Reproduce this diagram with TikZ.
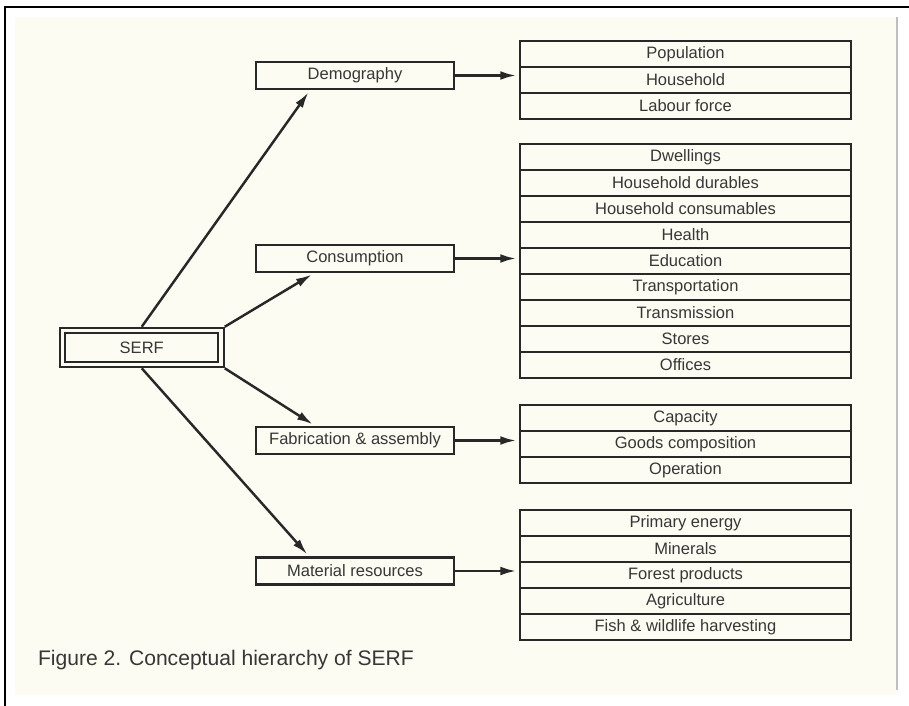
\documentclass[tikz,border=0pt]{standalone}
\usepackage{fontspec}
\setmainfont{Liberation Sans}
\usetikzlibrary{arrows.meta}
\definecolor{paper}{RGB}{253,252,242}
\definecolor{ink}{RGB}{40,40,40}
\definecolor{textgray}{RGB}{55,55,55}

\begin{document}
\begin{tikzpicture}[x=0.02cm, y=-0.02cm, line width=1.4pt, ink,
    boxfont/.style={font=\fontsize{9.4}{11}\selectfont, text=textgray},
    listrow/.style={draw, boxfont, minimum width=6.62cm, minimum height=0.52cm, inner sep=0pt},
    catbox/.style={draw, boxfont, minimum width=3.96cm, minimum height=0.54cm, inner sep=0pt},
    serfbox/.style={draw, double=paper, double distance=1.9pt, line width=1.2pt, boxfont,
        minimum width=3.17cm, minimum height=0.68cm, inner sep=0pt, outer sep=2.15pt},
    link/.style={-{Latex[length=9pt,width=5pt]}, shorten >=1.5pt}]

    \useasboundingbox (0,0) rectangle (909,706);
    % scanned page and frame
    \fill[white] (0,0) rectangle (909,706);
    \fill[paper] (15,17) rectangle (897,695);
    \draw[black, line width=1.3pt] (5,706) -- (5,7) -- (909,7);
    \draw[gray!50, line width=0.8pt] (897,17) -- (897,690);

    % root
    \node[serfbox] (serf) at (141.75, 347.5) {SERF};

    % categories
    \node[catbox] (demog) at (355, 75.5) {Demography};
    \node[catbox] (consum) at (355, 258.5) {Consumption};
    \node[catbox] (fabric) at (355, 440.5) {Fabrication \& assembly};
    \node[catbox] (matres) at (355, 571) {Material resources};

    % lists
    \foreach \lab [count=\i] in {Population, Household, Labour force}
        \node[listrow] (dem\i) at (685.5, 41+13+26*\i-26) {\lab};
    \foreach \lab [count=\i] in {Dwellings, Household durables, Household consumables,
            Health, Education, Transportation, Transmission, Stores, Offices}
        \node[listrow] (con\i) at (685.5, 144+13+26*\i-26) {\lab};
    \foreach \lab [count=\i] in {Capacity, Goods composition, Operation}
        \node[listrow] (fab\i) at (685.5, 405+13+26*\i-26) {\lab};
    \foreach \lab [count=\i] in {Primary energy, Minerals, Forest products,
            Agriculture, Fish \& wildlife harvesting}
        \node[listrow] (mat\i) at (685.5, 510+13+26*\i-26) {\lab};

    % connectors
    \draw[link] (serf.north) -- ([xshift=-0.9cm]demog.south);
    \draw[link] (serf.north east) -- ([xshift=-0.82cm]consum.south);
    \draw[link] (serf.south east) -- ([xshift=-0.8cm]fabric.north);
    \draw[link] (serf.south) -- ([xshift=-0.92cm]matres.north);

    \draw[link] (demog.east) -- (demog.east -| dem2.west);
    \draw[link] (consum.east) -- (consum.east -| con5.west);
    \draw[link] (fabric.east) -- (fabric.east -| fab2.west);
    \draw[link] (matres.east) -- (matres.east -| mat3.west);

    % caption
    \node[anchor=west, font=\fontsize{12}{14}\selectfont, text=textgray] (caption) at (31, 660)
        {Figure 2. Conceptual hierarchy of SERF};
\end{tikzpicture}
\end{document}
